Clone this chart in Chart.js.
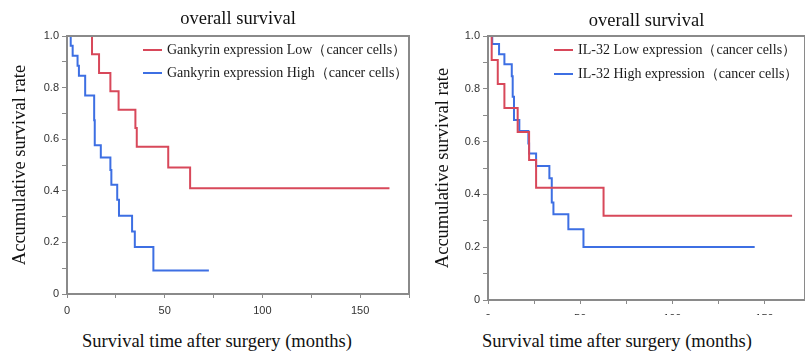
<!DOCTYPE html>
<html>
<head>
<meta charset="utf-8">
<script src="https://cdn.jsdelivr.net/npm/chart.js@4/dist/chart.umd.min.js"></script>
<style>
    html, body { margin: 0; padding: 0; background: #fff; overflow: hidden; }
    #wrap { position: relative; width: 805px; height: 351px; }
    .panel { position: absolute; top: 0; overflow: hidden; }
    .xtitle {
        position: absolute; top: 329px; width: 340px; margin-left: -170px;
        text-align: center; font: 18.5px "Liberation Serif", "DejaVu Serif", serif; color: #111;
        line-height: 24px; white-space: nowrap;
    }
</style>
</head>
<body>
<div id="wrap">
    <div class="panel" style="left:0;width:415px;height:325px;"><canvas id="gankyrinChart"></canvas></div>
    <div class="panel" style="left:415px;width:390px;height:315px;"><canvas id="il32Chart"></canvas></div>
    <div class="xtitle" style="left:217px;">Survival time after surgery (months)</div>
    <div class="xtitle" style="left:617px;">Survival time after surgery (months)</div>
</div>
<script>
// Gankyrin panel (months, survival rate)
const gankyrinLowTime = [0, 12.8, 16.4, 22.2, 26.4, 35.0, 35.7, 51.8, 63.0, 165];
const gankyrinLowRate = [1.0, 0.929, 0.857, 0.786, 0.714, 0.643, 0.571, 0.490, 0.410, 0.410];
const gankyrinHighTime = [0, 1.9, 2.9, 5.4, 6.1, 9.3, 13.9, 14.2, 17.3, 22.2, 22.7, 25.7, 26.6, 33.3, 34.7, 44.2, 72.6];
const gankyrinHighRate = [1.0, 0.962, 0.923, 0.885, 0.846, 0.769, 0.673, 0.577, 0.529, 0.481, 0.423, 0.365, 0.303, 0.242, 0.182, 0.091, 0.091];

// IL-32 panel
const il32LowTime = [0, 2.0, 5.3, 8.9, 16.1, 22.3, 26.1, 62.7, 165];
const il32LowRate = [1.0, 0.909, 0.818, 0.727, 0.636, 0.530, 0.425, 0.319, 0.319];
const il32HighTime = [0, 2.3, 6.0, 8.9, 12.9, 13.4, 14.1, 17.0, 21.9, 22.3, 26.1, 33.3, 34.6, 35.5, 43.6, 51.8, 144.7];
const il32HighRate = [1.0, 0.970, 0.931, 0.893, 0.848, 0.770, 0.682, 0.640, 0.593, 0.555, 0.508, 0.461, 0.369, 0.325, 0.268, 0.201, 0.201];

const yTicks = ['0', '0.2', '0.4', '0.6', '0.8', '1.0'];
const xTicks = [0, 50, 100, 150];

const chartTitle = 'overall survival';
const yTitle = 'Accumulative survival rate';

const RED = '#d8485a';
const BLUE = '#3d6fe3';
const AXIS = '#8a8a8a';

function toPoints(times, rates) {
    return times.map((t, i) => ({ x: t, y: rates[i] }));
}

// box round the plot area, drawn over the curves so the 1.0 segment hides under it
const boxPlugin = {
    id: 'plotBox',
    afterDatasetsDraw(chart) {
        const a = chart.chartArea;
        const ctx = chart.ctx;
        ctx.save();
        ctx.strokeStyle = AXIS;
        ctx.lineWidth = 2;
        ctx.strokeRect(a.left, a.top, a.right - a.left, a.bottom - a.top);
        ctx.restore();
    }
};

// legend sitting inside the plot area
const innerLegend = {
    id: 'innerLegend',
    afterDraw(chart, args, opts) {
        const ctx = chart.ctx;
        const a = chart.chartArea;
        ctx.save();
        ctx.font = '14px "Liberation Serif", "DejaVu Serif", serif';
        ctx.textBaseline = 'middle';
        chart.data.datasets.forEach((ds, i) => {
            const x = a.left + opts.dx;
            const y = a.top + opts.dy + i * opts.gap;
            ctx.strokeStyle = ds.borderColor;
            ctx.lineWidth = 2;
            ctx.beginPath();
            ctx.moveTo(x, y);
            ctx.lineTo(x + 19, y);
            ctx.stroke();
            ctx.fillStyle = '#1a1a1a';
            ctx.fillText(ds.label, x + 24, y);
        });
        ctx.restore();
    }
};

function makeChart(canvasId, opts) {
    const ctx = document.getElementById(canvasId);
    return new Chart(ctx.getContext('2d'), {
        type: 'line',
        data: {
            datasets: [{
                label: opts.lowLabel,
                data: toPoints(opts.lowTime, opts.lowRate),
                borderColor: RED,
                borderWidth: 2,
                stepped: 'before',
                pointRadius: 0,
                fill: false,
                clip: 0
            }, {
                label: opts.highLabel,
                data: toPoints(opts.highTime, opts.highRate),
                borderColor: BLUE,
                borderWidth: 2,
                stepped: 'before',
                pointRadius: 0,
                fill: false,
                clip: 0
            }]
        },
        options: {
            responsive: true,
            maintainAspectRatio: false,
            animation: false,
            layout: { padding: { left: 0, right: opts.padRight, top: 0, bottom: 0 } },
            plugins: {
                legend: { display: false },
                tooltip: { enabled: false },
                title: {
                    display: true,
                    fullSize: false,
                    text: chartTitle,
                    color: '#111',
                    font: { family: '"Liberation Serif", "DejaVu Serif", serif', size: 18.5, weight: 'normal' },
                    padding: { top: opts.titleTop, bottom: 36 - opts.titleTop - 22.2 }
                },
                innerLegend: { dx: opts.legendDx, dy: 14, gap: opts.legendGap }
            },
            scales: {
                x: {
                    type: 'linear',
                    min: 0,
                    max: opts.xMax,
                    afterBuildTicks: (scale) => {
                        scale.ticks = scale.ticks.filter(t => t.value % 25 === 0);
                    },
                    afterFit: (scale) => { scale.height = opts.xAxisHeight; },
                    ticks: {
                        stepSize: 25,
                        autoSkip: false,
                        maxRotation: 0,
                        padding: opts.xTickPad,
                        color: '#333',
                        font: { family: '"Liberation Sans", Arial, sans-serif', size: 11 },
                        callback: (v) => xTicks.includes(v) ? String(v) : ''
                    },
                    grid: { drawOnChartArea: false, drawTicks: true, tickLength: 4, color: AXIS },
                    border: { color: AXIS, width: 2 }
                },
                y: {
                    min: 0,
                    max: 1,
                    afterFit: (scale) => { scale.width = opts.yAxisWidth; },
                    ticks: {
                        stepSize: 0.1,
                        autoSkip: false,
                        padding: 3,
                        color: '#333',
                        font: { family: '"Liberation Sans", Arial, sans-serif', size: 11 },
                        callback: (v) => {
                            const i = Math.round(v * 10);
                            return i % 2 === 0 ? yTicks[i / 2] : '';
                        }
                    },
                    grid: { drawOnChartArea: false, drawTicks: true, tickLength: 5, color: AXIS },
                    border: { color: AXIS, width: 2 },
                    title: {
                        display: true,
                        text: yTitle,
                        color: '#111',
                        font: { family: '"Liberation Serif", "DejaVu Serif", serif', size: 18.5 },
                        padding: { top: opts.yTitlePad, bottom: 0 }
                    }
                }
            }
        },
        plugins: [boxPlugin, innerLegend]
    });
}

document.addEventListener('DOMContentLoaded', () => {
    makeChart('gankyrinChart', {
        lowLabel: 'Gankyrin expression Low（cancer cells）',
        highLabel: 'Gankyrin expression High（cancer cells）',
        lowTime: gankyrinLowTime, lowRate: gankyrinLowRate,
        highTime: gankyrinHighTime, highRate: gankyrinHighRate,
        xMax: 175,
        padRight: 3,
        xAxisHeight: 31,
        xTickPad: 6,
        yAxisWidth: 67,
        yTitlePad: 9,
        titleTop: 8,
        legendDx: 76,
        legendGap: 23
    });

    makeChart('il32Chart', {
        lowLabel: 'IL-32 Low expression（cancer cells）',
        highLabel: 'IL-32 High expression（cancer cells）',
        lowTime: il32LowTime, lowRate: il32LowRate,
        highTime: il32HighTime, highRate: il32HighRate,
        xMax: 172,
        padRight: 0,
        xAxisHeight: 15,
        xTickPad: 8,
        yAxisWidth: 73,
        yTitlePad: 17,
        titleTop: 10,
        legendDx: 66,
        legendGap: 24
    });
});
</script>
</body>
</html>
